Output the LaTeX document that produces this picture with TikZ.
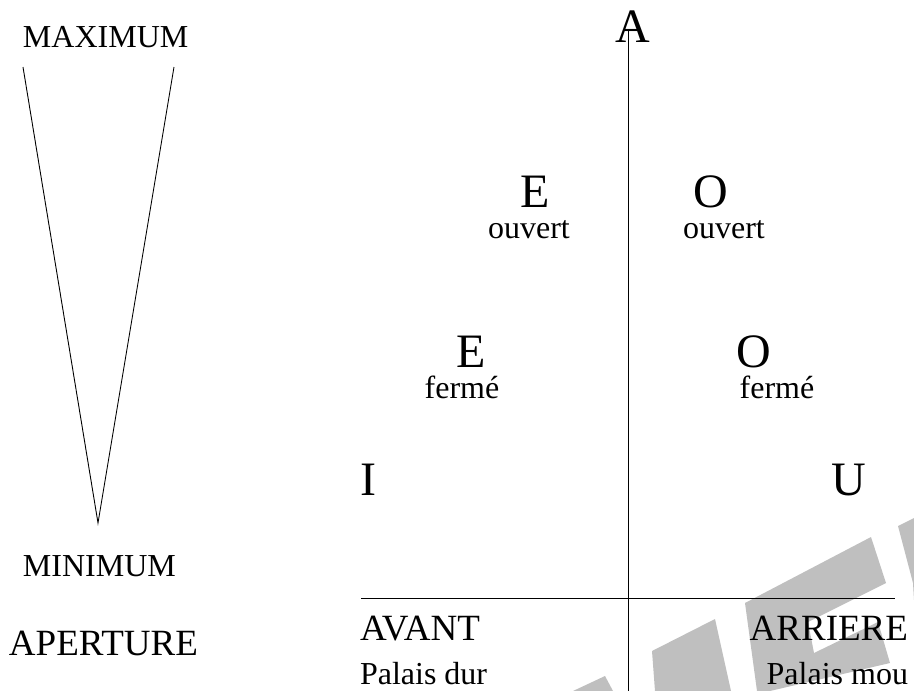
\documentclass[tikz,border=0pt]{standalone}
\usepackage{fontspec}
\setmainfont{Liberation Serif}
\begin{document}
\begin{tikzpicture}[x=1pt,y=-1pt,
  txt/.style={inner sep=0pt,outer sep=0pt},
  big/.style={txt,anchor=base,font=\fontsize{48}{56}\selectfont},
  mid/.style={txt,anchor=base west,font=\fontsize{37}{44}\selectfont},
  small/.style={txt,font=\fontsize{32}{38}\selectfont},
  axis/.style={line width=1pt,draw=black},
  thin/.style={line width=0.9pt,draw=black},
  wm/.style={fill=black!25,draw=none}]
\useasboundingbox (0,0) rectangle (914,691);
% watermark
\fill[wm] (573,691) -- (605,676) -- (613,691) -- cycle;
\fill[wm] (652,651) -- (715,619) -- (731,691) -- (655,691) -- cycle;
\fill[wm] (745,603) -- (871,537) -- (886,583) -- (808,622) -- (814,653) -- (878,622) -- (890,663) -- (770,691) -- (757,691) -- cycle;
\fill[wm] (898,526) -- (914,518) -- (914,600) -- (913,583) -- cycle;
% triangle
\coordinate (tl) at (23,67);
\coordinate (tr) at (174,67);
\coordinate (tb) at (98,523);
\draw[thin] (tl) -- (tb) -- (tr);
% axes
\coordinate (vtop) at (628,30);
\coordinate (vbot) at (628,691);
\coordinate (hl) at (361,598);
\coordinate (hr) at (895,598);
\draw[axis] (vtop) -- (vbot);
\draw[axis] (hl) -- (hr);
% left labels
\node[small,anchor=base west] (max) at (23,47) {MAXIMUM};
\node[small,anchor=base west] (min) at (23,576) {MINIMUM};
\node[mid] (ap) at (9,655) {APERTURE};
% vowels
\node[big] (A) at (633,42) {A};
\node[big] (Eo) at (535,207) {E};
\node[small,anchor=base] (Eol) at (529,238) {ouvert};
\node[big] (Oo) at (711,207) {O};
\node[small,anchor=base] (Ool) at (724,238) {ouvert};
\node[big] (Ef) at (471,367) {E};
\node[small,anchor=base] (Efl) at (462,398) {fermé};
\node[big] (Of) at (754,367) {O};
\node[small,anchor=base] (Ofl) at (777,398) {fermé};
\node[big] (I) at (368,495) {I};
\node[big] (U) at (849,495) {U};
% bottom labels
\node[mid] (av) at (360,640) {AVANT};
\node[mid,anchor=base east] (ar) at (908,640) {ARRIERE};
\node[small,anchor=base west] (pd) at (360,684) {Palais dur};
\node[small,anchor=base east] (pm) at (908,684) {Palais mou};
\end{tikzpicture}
\end{document}
